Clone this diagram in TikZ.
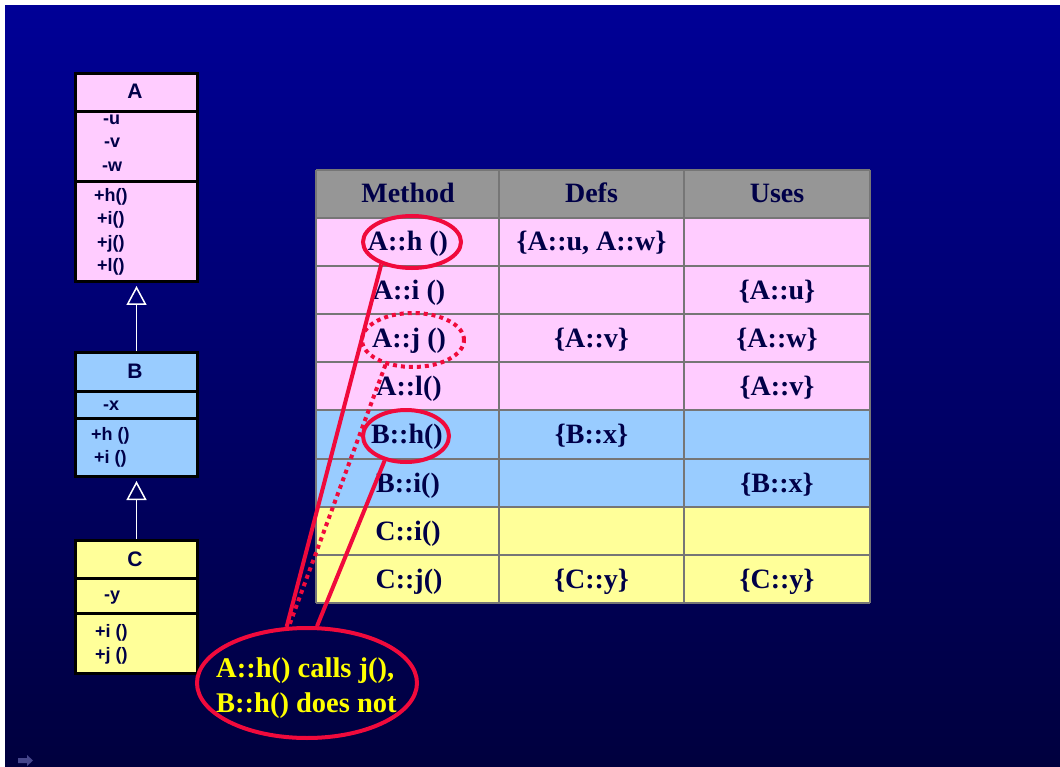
\documentclass[tikz,border=0pt]{standalone}
\usepackage{fontspec}
\setmainfont{Liberation Serif}
\newfontfamily\arial{Liberation Sans}
\usetikzlibrary{arrows.meta,shapes.geometric,calc}
\definecolor{bgtop}{RGB}{0,0,150}
\definecolor{bgbot}{RGB}{0,0,62}
\definecolor{pinkc}{RGB}{255,204,255}
\definecolor{bluec}{RGB}{153,204,255}
\definecolor{yellc}{RGB}{255,255,153}
\definecolor{headc}{RGB}{150,150,150}
\definecolor{gridc}{RGB}{118,118,118}
\definecolor{navyt}{RGB}{0,0,72}
\definecolor{redc}{RGB}{240,10,60}
\definecolor{callt}{RGB}{255,255,0}
\definecolor{iconc}{RGB}{70,70,140}
\begin{document}
\begin{tikzpicture}[x=1pt,y=-1pt,
  cls/.style={draw=black, line width=3pt, minimum width=122pt, inner sep=0pt, anchor=north west},
  mem/.style={anchor=base west, text=navyt, font=\arial\bfseries\fontsize{18}{20}\selectfont, inner sep=0pt},
  clsname/.style={anchor=base, text=navyt, font=\arial\bfseries\fontsize{21}{23}\selectfont, inner sep=0pt},
  cell/.style={anchor=base, text=navyt, font=\bfseries\fontsize{28}{31}\selectfont, inner sep=0pt},
  calltext/.style={anchor=base west, text=callt, font=\bfseries\fontsize{28.5}{31}\selectfont, inner sep=0pt},
  ring/.style={draw=redc, line width=4pt, ellipse, inner sep=0pt},
  link/.style={draw=redc, line width=4pt},
  dotlink/.style={link, dash pattern=on 4pt off 4pt},
  inh/.style={draw=white, line width=1.5pt, -{Triangle[open, length=19pt, width=20pt, line width=1.5pt]}},
  grid/.style={draw=gridc, line width=2pt}
]
\useasboundingbox (0,0) rectangle (1060,767);
\fill[white] (0,0) rectangle (1060,767);
\shade[top color=bgtop, bottom color=bgbot] (5,6) rectangle (1060,767);
\fill[iconc] (18,758) -- (27,758) -- (27,755) -- (33,760.5) -- (27,766) -- (27,763) -- (18,763) -- cycle;

% ---------- UML classes ----------
\node[cls, fill=pinkc, minimum height=38pt] (Ahead) at (74,72) {};
\node[cls, fill=pinkc, minimum height=70pt] (Aatt) at (74,110) {};
\node[cls, fill=pinkc, minimum height=100pt] (Amet) at (74,180) {};
\node[clsname] (An) at (135,99) {A};
\node[mem] (Au) at (103,125) {-u};
\node[mem] (Av) at (104,148) {-v};
\node[mem] (Aw) at (102,172) {-w};
\node[mem] (Ah) at (94,202) {+h()};
\node[mem] (Ai) at (97,225) {+i()};
\node[mem] (Aj) at (97,249) {+j()};
\node[mem] (Al) at (97,272) {+l()};

\node[cls, fill=bluec, minimum height=39pt] (Bhead) at (74,351) {};
\node[cls, fill=bluec, minimum height=27pt] (Batt) at (74,390) {};
\node[cls, fill=bluec, minimum height=58pt] (Bmet) at (74,417) {};
\node[clsname] (Bn) at (135,378) {B};
\node[mem] (Bx) at (103,410) {-x};
\node[mem] (Bh) at (91,440) {+h ()};
\node[mem] (Bi) at (94,463) {+i ()};

\node[cls, fill=yellc, minimum height=38pt] (Chead) at (74,539) {};
\node[cls, fill=yellc, minimum height=35pt] (Catt) at (74,577) {};
\node[cls, fill=yellc, minimum height=60pt] (Cmet) at (74,612) {};
\node[clsname] (Cn) at (135,566) {C};
\node[mem] (Cy) at (104,600) {-y};
\node[mem] (Ci) at (95,637) {+i ()};
\node[mem] (Cj) at (95,660) {+j ()};

\draw[inh] (Bhead.north) -- ($(Amet.south)+(0,3)$);
\draw[inh] (Chead.north) -- ($(Bmet.south)+(0,3)$);

% ---------- table ----------
\fill[headc] (316,170) rectangle (870,218);
\fill[pinkc] (316,218) rectangle (870,410);
\fill[bluec] (316,410) rectangle (870,507);
\fill[yellc] (316,507) rectangle (870,603);
\foreach \yy in {170,218,266,314,362,410,459,507,555,603}
  \draw[grid] (316,\yy) -- (870,\yy);
\foreach \xx in {316,499,684,870}
  \draw[grid] (\xx,170) -- (\xx,603);

\node[cell] (hM) at (408,203) {Method};
\node[cell] (hD) at (591.5,203) {Defs};
\node[cell] (hU) at (777,203) {Uses};

\node[cell] (m1) at (408,251) {A::h ()};
\node[cell] (d1) at (591.5,251) {\{A::u, A::w\}};
\node[cell] (m2) at (409,299) {A::i ()};
\node[cell] (u2) at (777,299) {\{A::u\}};
\node[cell] (m3) at (409,347) {A::j ()};
\node[cell] (d3) at (591.5,347) {\{A::v\}};
\node[cell] (u3) at (777,347) {\{A::w\}};
\node[cell] (m4) at (409,395) {A::l()};
\node[cell] (u4) at (777,395) {\{A::v\}};
\node[cell] (m5) at (407,443.5) {B::h()};
\node[cell] (d5) at (591.5,443.5) {\{B::x\}};
\node[cell] (m6) at (408,492) {B::i()};
\node[cell] (u6) at (777,492) {\{B::x\}};
\node[cell] (m7) at (408,540) {C::i()};
\node[cell] (m8) at (409,588) {C::j()};
\node[cell] (d8) at (591.5,588) {\{C::y\}};
\node[cell] (u8) at (777,588) {\{C::y\}};

% ---------- highlights ----------
\node[ring, minimum width=98pt, minimum height=52pt] (eAh) at (412,242) {};
\node[ring, dash pattern=on 4pt off 4pt, minimum width=102pt, minimum height=54pt] (eAj) at (413,340) {};
\node[ring, minimum width=86pt, minimum height=52pt] (eBh) at (406,436) {};
\node[ring, minimum width=220pt, minimum height=110pt] (call) at (307,683) {};

\draw[link] (eAh.216) -- (call.110);
\draw[dotlink] (eAj.222) -- (call.108);
\draw[link] (eBh.229) -- (call.80);

\node[calltext] (c1) at (216,677) {A::h() calls j(),};
\node[calltext] (c2) at (216,712) {B::h() does not};
\end{tikzpicture}
\end{document}
